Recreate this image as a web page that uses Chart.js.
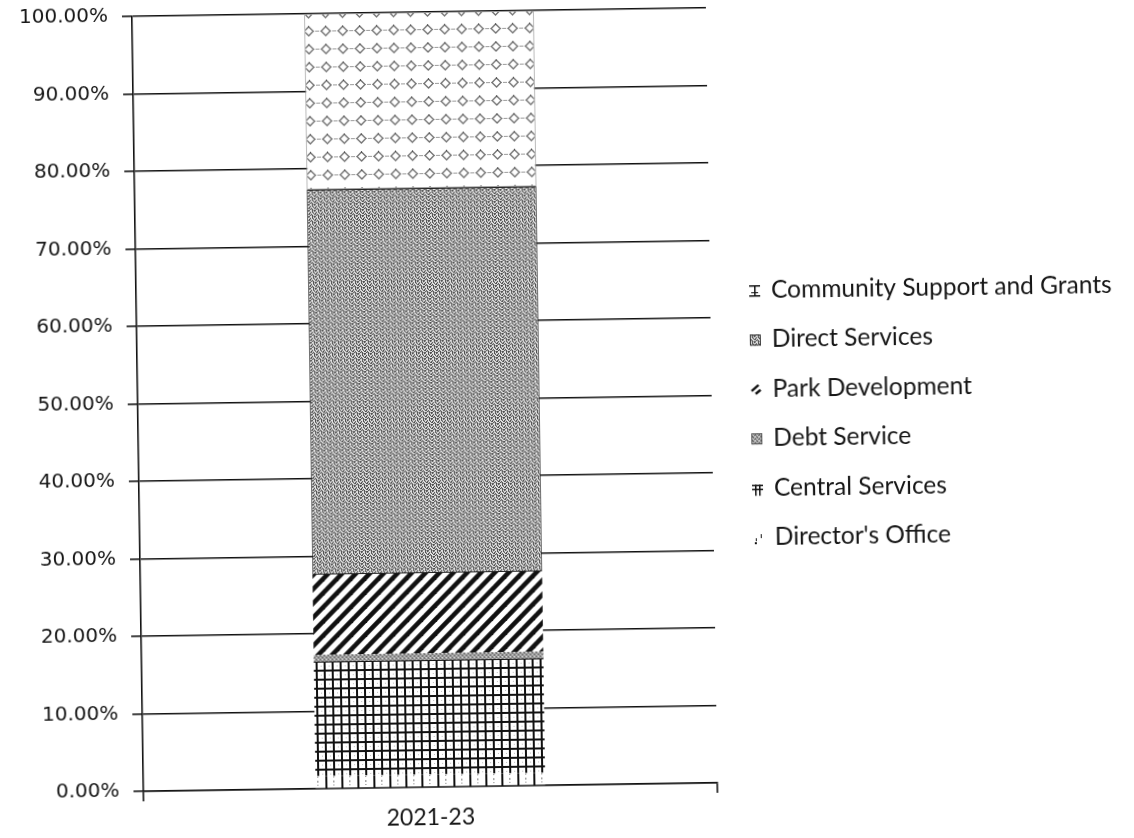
<!DOCTYPE html>
<html>
<head>
<meta charset="utf-8">
<title>2021-23</title>
<script src="https://cdn.jsdelivr.net/npm/chart.js@4.4.1/dist/chart.umd.min.js"></script>
<style>
  html, body { margin: 0; padding: 0; background: #fff; overflow: hidden; }
  #wrap { width: 1134px; height: 838px; transform: rotate(-0.85deg); transform-origin: 50% 50%; }
  canvas { display: block; }
</style>
</head>
<body>
<div id="wrap"><canvas id="c" width="1134" height="838"></canvas></div>
<script>
// Budget share by division, biennium 2021-23 (percent of total)
const categories = ['2021-23'];
const seriesNames = [
  "Director's Office",
  'Central Services',
  'Debt Service',
  'Park Development',
  'Direct Services',
  'Community Support and Grants'
];
const directorsOffice  = [1.6];
const centralServices  = [14.8];
const debtService      = [0.9];
const parkDevelopment  = [10.3];
const directServices   = [49.7];
const communitySupport = [22.7];

const yTickValues = [0, 10, 20, 30, 40, 50, 60, 70, 80, 90, 100];
const yTickLabels = ['0.00%', '10.00%', '20.00%', '30.00%', '40.00%', '50.00%',
                     '60.00%', '70.00%', '80.00%', '90.00%', '100.00%'];

const canvas = document.getElementById('c');
const ctx = canvas.getContext('2d');

// --- fill patterns -------------------------------------------------------
function tile(w, h, draw) {
  const t = document.createElement('canvas');
  t.width = w; t.height = h;
  const g = t.getContext('2d');
  g.fillStyle = '#fff';
  g.fillRect(0, 0, w, h);
  draw(g, w, h);
  return ctx.createPattern(t, 'repeat');
}

function pixelTile(rows, colours) {
  return tile(rows[0].length, rows.length, g => {
    rows.forEach((r, y) => {
      for (let x = 0; x < r.length; x++) {
        g.fillStyle = colours[r[x]];
        g.fillRect(x, y, 1, 1);
      }
    });
  });
}

// sparse vertical dashes
const patDirector = tile(16, 8, g => {
  g.fillStyle = '#111';
  g.fillRect(0, 0, 2, 8);
  g.fillStyle = '#777';
  g.fillRect(8, 1, 1, 2);
  g.fillRect(8, 5, 1, 1);
});

// heavy square grid
const patCentral = tile(8, 9, g => {
  g.fillStyle = '#111';
  g.fillRect(0, 0, 8, 2);
  g.fillRect(0, 0, 2, 9);
  g.fillStyle = '#bbb';
  g.fillRect(5, 5, 1, 1);
});

// fine grey stipple
const patDebt = pixelTile([
  'abca',
  'caab',
  'acba',
  'bacc'
], { a: '#9a9a9a', b: '#5a5a5a', c: '#d4d4d4' });

// bold forward diagonals
const patPark = tile(14, 14, g => {
  g.strokeStyle = '#111';
  g.lineWidth = 4.6;
  g.lineCap = 'square';
  [-14, 0, 14].forEach(dx => {
    g.beginPath();
    g.moveTo(dx - 2, 16);
    g.lineTo(dx + 16, -2);
    g.stroke();
  });
});

// dense dither, mid grey
const patDirect = pixelTile([
  'dldlld',
  'ldmdll',
  'dlldmd',
  'mlldld',
  'ldldml',
  'dmlldl'
], { d: '#505050', l: '#e2e2e2', m: '#9a9a9a' });

// chain of small rings on white
const patCommunity = tile(17, 18, g => {
  g.strokeStyle = '#9a9a9a';
  g.lineWidth = 1;
  g.setLineDash([2, 1]);
  g.beginPath();
  g.moveTo(0, 9.5); g.lineTo(17, 9.5);
  g.stroke();
  g.setLineDash([]);
  g.fillStyle = '#fff';
  g.strokeStyle = '#707070';
  g.lineWidth = 1.3;
  g.beginPath();
  g.moveTo(8.5, 5); g.lineTo(13, 9.5); g.lineTo(8.5, 14); g.lineTo(4, 9.5); g.closePath();
  g.fill();
  g.stroke();
  g.fillStyle = '#555';
  g.fillRect(8, 4, 1, 2);
});

// small glyph-like keys for the legend
const keyMarks = [
  (c, x, y) => { c.fillStyle = '#111'; c.fillRect(x + 3, y + 1, 1, 3); c.fillRect(x + 8, y - 3, 1, 4); c.fillRect(x + 2, y + 5, 2, 2); },
  (c, x, y) => { c.fillStyle = '#111'; c.fillRect(x, y - 3, 11, 1.5); c.fillRect(x, y + 1, 11, 1.5); c.fillRect(x + 3, y - 3, 1.5, 11); c.fillRect(x + 7, y - 3, 1.5, 11); },
  (c, x, y) => { c.fillStyle = patDebt; c.fillRect(x, y - 5, 11, 11); c.strokeStyle = '#555'; c.lineWidth = 1; c.strokeRect(x + 0.5, y - 4.5, 10, 10); },
  (c, x, y) => { c.strokeStyle = '#111'; c.lineWidth = 2.4; c.beginPath(); c.moveTo(x + 1, y + 2); c.lineTo(x + 8, y - 4); c.stroke(); c.beginPath(); c.moveTo(x + 5, y + 5); c.lineTo(x + 10, y + 1); c.stroke(); },
  (c, x, y) => { c.fillStyle = patDirect; c.fillRect(x, y - 5, 11, 11); c.strokeStyle = '#333'; c.lineWidth = 1; c.strokeRect(x + 0.5, y - 4.5, 10, 10); },
  (c, x, y) => { c.fillStyle = '#111'; c.fillRect(x, y - 5, 11, 1.5); c.fillRect(x, y + 5, 11, 1.5); c.fillRect(x + 5, y - 5, 1.5, 11); c.fillRect(x + 2, y + 2, 7, 1); }
];

const fills = [patDirector, patCentral, patDebt, patPark, patDirect, patCommunity];
const values = [directorsOffice, centralServices, debtService, parkDevelopment, directServices, communitySupport];
const borders = [
  { c: 'rgba(0,0,0,0)', w: 0 },
  { c: 'rgba(0,0,0,0)', w: 0 },
  { c: 'rgba(0,0,0,0)', w: 0 },
  { c: 'rgba(0,0,0,0)', w: 0 },
  { c: '#222', w: 1 },
  { c: '#999', w: 1 }
];

const datasets = seriesNames.map((name, i) => ({
  label: name,
  data: values[i],
  backgroundColor: fills[i],
  borderColor: borders[i].c,
  borderWidth: borders[i].w,
  borderSkipped: false,
  barPercentage: 0.4,
  categoryPercentage: 1.0
}));

// legend at the right, top entry = top of stack
const sideLegend = {
  id: 'sideLegend',
  afterDraw(chart) {
    const c = chart.ctx;
    const ds = chart.data.datasets;
    const n = ds.length;
    const x0 = 751, tx = 773, top = 292, gap = 49.4;
    c.save();
    c.font = '24.5px Lato';
    c.textBaseline = 'middle';
    c.textAlign = 'left';
    for (let i = 0; i < n; i++) {
      const k = n - 1 - i;
      const y = top + i * gap;
      keyMarks[k](c, x0, y + 1);
      c.fillStyle = '#161616';
      c.fillText(ds[k].label, tx, y + 1);
    }
    c.restore();
  }
};

new Chart(ctx, {
  type: 'bar',
  data: { labels: categories, datasets },
  plugins: [sideLegend],
  options: {
    responsive: false,
    animation: false,
    devicePixelRatio: 1,
    layout: { padding: { top: 10, left: 0, right: 422, bottom: 0 } },
    plugins: {
      legend: { display: false },
      tooltip: { enabled: false },
      title: { display: false }
    },
    scales: {
      x: {
        stacked: true,
        offset: true,
        grid: {
          display: true,
          drawOnChartArea: false,
          drawTicks: true,
          tickLength: 10,
          color: '#111',
          lineWidth: 1.6
        },
        border: { display: true, color: '#111', width: 1.6 },
        ticks: {
          color: '#161616',
          font: { family: 'Lato', size: 23 },
          padding: 7
        },
        afterFit(s) { s.height = 53; s.paddingLeft = 0; s.paddingRight = 0; }
      },
      y: {
        stacked: true,
        min: 0,
        max: 100,
        afterBuildTicks(s) { s.ticks = yTickValues.map(v => ({ value: v })); },
        grid: {
          color: '#111',
          lineWidth: 1.6,
          drawTicks: true,
          tickLength: 10
        },
        border: { display: true, color: '#111', width: 1.6 },
        ticks: {
          color: '#161616',
          font: { family: 'DejaVu Sans', size: 20 },
          padding: 14,
          callback: (v) => yTickLabels[yTickValues.indexOf(v)]
        },
        afterFit(s) { s.width = 138; s.paddingTop = 0; s.paddingBottom = 0; }
      }
    }
  }
});
</script>
</body>
</html>
